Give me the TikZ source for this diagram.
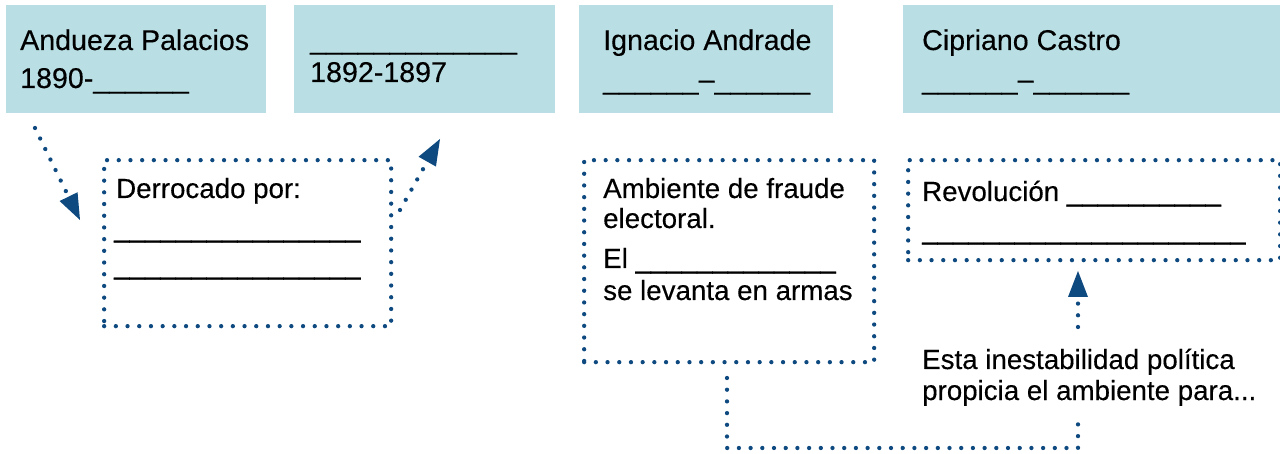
\documentclass[tikz,border=0pt]{standalone}
\usepackage{fontspec}
\setmainfont{Liberation Sans}[FakeBold=0.3]
\usetikzlibrary{arrows.meta}
\definecolor{boxfill}{RGB}{185,223,228}
\definecolor{dotblue}{RGB}{14,74,128}
\begin{document}
\begin{tikzpicture}[x=1pt,y=-1pt,
  title/.style={rectangle,fill=boxfill,draw=none,anchor=north west,inner sep=0pt},
  dotbox/.style={rectangle,draw=dotblue,line width=4.3pt,dash pattern=on 0pt off 11.7pt,line cap=round,anchor=north west,inner sep=0pt},
  txt/.style={anchor=base west,inner sep=0pt,font=\fontsize{27.7}{33}\selectfont,text=black},
  ttxt/.style={txt,font=\fontsize{28.6}{34}\selectfont},
  dotline/.style={draw=dotblue,line width=4.3pt,dash pattern=on 0pt off 11.7pt,line cap=round},
  tipped/.style={dotline,-{Triangle[length=26pt,width=20pt,line width=0pt]}}
]
\useasboundingbox (0,0) rectangle (1280,454);
% title boxes
\node[title,minimum width=260pt,minimum height=108pt] (b1) at (6,5) {};
\node[title,minimum width=261pt,minimum height=108pt] (b2) at (294,5) {};
\node[title,minimum width=254pt,minimum height=108pt] (b3) at (579,5) {};
\node[title,minimum width=377pt,minimum height=108pt] (b4) at (903,5) {};
\node[ttxt] (t1a) at (20,50) {Andueza Palacios};
\node[ttxt] (t1b) at (20,88) {1890-\_\_\_\_\_\_};
\node[ttxt] (t2a) at (310,49) {\_\_\_\_\_\_\_\_\_\_\_\_\_};
\node[ttxt] (t2b) at (310,82) {1892-1897};
\node[ttxt] (t3a) at (603,50) {Ignacio Andrade};
\node[ttxt] (t3b) at (603,89) {\_\_\_\_\_\_–\_\_\_\_\_\_};
\node[ttxt] (t4a) at (922,50) {Cipriano Castro};
\node[ttxt] (t4b) at (922,89) {\_\_\_\_\_\_–\_\_\_\_\_\_};
% dotted boxes
\node[dotbox,minimum width=287pt,minimum height=166pt] (d1) at (102,158) {};
\node[dotbox,minimum width=290pt,minimum height=202pt] (d2) at (582,158) {};
\node[dotbox,minimum width=372pt,minimum height=100pt] (d3) at (906,158) {};
\node[txt] (d1a) at (116,198) {Derrocado por:};
\node[txt] (d1b) at (114,237) {\_\_\_\_\_\_\_\_\_\_\_\_\_\_\_\_};
\node[txt] (d1c) at (114,274) {\_\_\_\_\_\_\_\_\_\_\_\_\_\_\_\_};
\node[txt] (d2a) at (603,198) {Ambiente de fraude};
\node[txt] (d2b) at (603,228) {electoral.};
\node[txt] (d2c) at (603,268) {El \_\_\_\_\_\_\_\_\_\_\_\_\_};
\node[txt] (d2d) at (603,300) {se levanta en armas};
\node[txt] (d3a) at (922,201) {Revolución \_\_\_\_\_\_\_\_\_\_};
\node[txt] (d3b) at (922,239) {\_\_\_\_\_\_\_\_\_\_\_\_\_\_\_\_\_\_\_\_\_};
\node[txt] (e1) at (922,369) {Esta inestabilidad política};
\node[txt] (e2) at (922,400) {propicia el ambiente para...};
% connectors
\coordinate (a1s) at (35,128);
\coordinate (a1e) at (80,220);
\coordinate (a2s) at (400,210);
\coordinate (a2e) at (440,139);
\coordinate (c1) at (727,378);
\coordinate (c2) at (1078,415);
\coordinate (c3) at (1078,327);
\coordinate (c4) at (1078,271);
\draw[tipped] (a1s) -- (a1e);
\draw[tipped] (a2s) -- (a2e);
\draw[dotline] (c1) -- (727,448) -- (1078,448) -- (c2);
\draw[tipped] (c3) -- (c4);
\end{tikzpicture}
\end{document}
